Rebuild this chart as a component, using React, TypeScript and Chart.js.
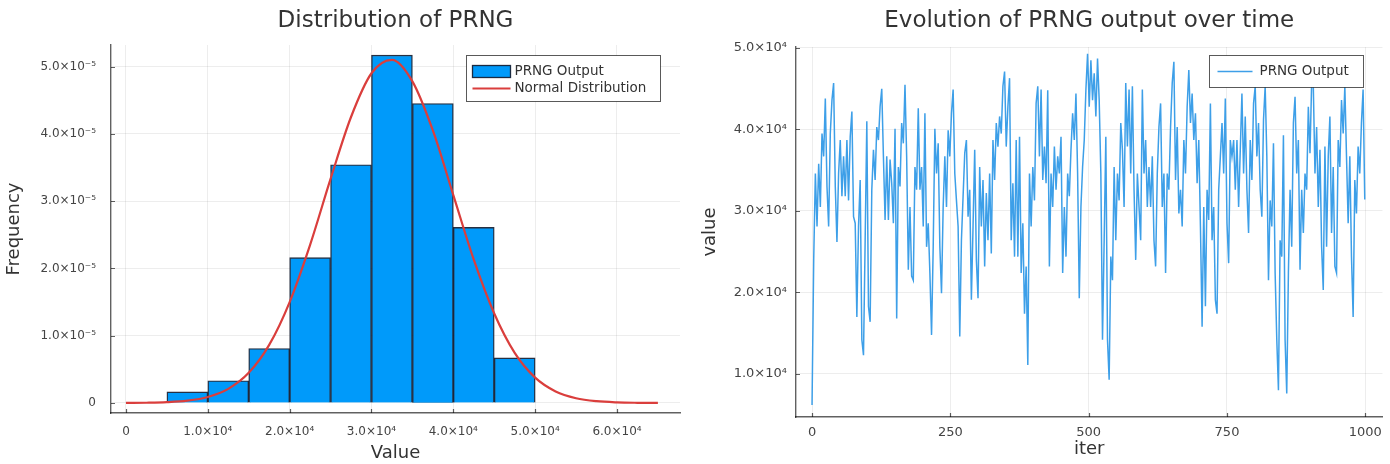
import React, { useEffect, useRef } from "react";
import { Chart, registerables } from "chart.js";

Chart.register(...registerables);

// ---------------- DATA ----------------
// Histogram (left panel)
const BIN_WIDTH = 5000;
const BIN_STARTS = [5000, 10000, 15000, 20000, 25000, 30000, 35000, 40000, 45000];
const BIN_FREQ = [0.165e-5, 0.33e-5, 0.81e-5, 2.16e-5, 3.54e-5, 5.17e-5, 4.45e-5, 2.61e-5, 0.67e-5];

// Normal distribution curve
const NORMAL_X = [
  0, 2500, 5000, 7500, 10000, 12500, 15000, 17500, 20000, 22500, 25000, 27500, 30000, 32500,
  35000, 37500, 40000, 42500, 45000, 47500, 50000, 52500, 55000, 57500, 60000, 62500, 65000,
];
const NORMAL_PDF = [
  1.0e-8, 3.6e-8, 1.17e-7, 3.4e-7, 8.9e-7, 2.1e-6, 4.48e-6, 8.63e-6, 1.5e-5, 2.35e-5, 3.33e-5,
  4.25e-5, 4.9e-5, 5.1e-5, 4.78e-5, 4.05e-5, 3.09e-5, 2.13e-5, 1.33e-5, 7.45e-6, 3.77e-6, 1.72e-6,
  7.1e-7, 2.65e-7, 8.9e-8, 2.7e-8, 7e-9,
];

const FREQ_TICKS = [0, 1e-5, 2e-5, 3e-5, 4e-5, 5e-5];
const FREQ_TICK_LABELS = ["0", "1.0×10⁻⁵", "2.0×10⁻⁵", "3.0×10⁻⁵", "4.0×10⁻⁵", "5.0×10⁻⁵"];
const VALUE_TICKS = [0, 10000, 20000, 30000, 40000, 50000, 60000];
const VALUE_TICK_LABELS = ["0", "1.0×10⁴", "2.0×10⁴", "3.0×10⁴", "4.0×10⁴", "5.0×10⁴", "6.0×10⁴"];

// Time series (right panel): one reading every ITER_STEP iterations
const ITER_STEP = 3;
const PRNG_VALUES = [
  6200, 24000, 34600, 28100, 35800, 30500, 39500, 36700, 43800, 33000,
  28100, 39500, 43600, 45700, 33000, 26200, 34600, 38700, 31800, 36700,
  31800, 38700, 31300, 39100, 42200, 29300, 28500, 17000, 28100, 33800,
  14200, 12300, 26400, 41000,
  18300, 16400, 32600, 37500, 33800, 40300, 38700, 42800, 45000, 36700,
  28900, 36700, 28900, 36300, 33400, 28500, 40100, 16800, 35400, 33000,
  40800, 38300, 45500, 36700, 22800, 30500, 22000, 21500, 35400, 32600,
  42600, 32600, 35400, 28100, 42000, 25600, 28500, 22400, 14800, 25600,
  40100, 34600, 38300, 25600, 19900, 30500, 36700, 30500, 39900, 36700,
  42000, 44900, 34600, 31300, 28100, 14600, 26400, 31800, 37100, 38700,
  29300, 32600, 19100, 28100, 37500, 24000, 19300, 35400, 28100, 33800,
  23200, 32200, 26400, 34600, 24800, 38700, 33800, 40800, 37900, 41600,
  39500, 45300, 47100, 37900, 42800, 46300, 26400, 33400, 24400, 38700,
  24400, 39100, 22400, 28500, 17400, 23200, 11100, 34600, 28100, 35400,
  31300, 43200, 45300, 36700, 44900, 33800, 37900, 33400, 44800, 23200,
  34600, 30500, 37900, 32600, 36700, 34600, 39100, 22400, 30500, 24400,
  34600, 31800, 37500, 42000, 38700, 44400, 34600, 19300, 30500, 35400,
  38700, 44900, 49300, 42800, 48500, 43600, 46900, 41600, 48700, 43600,
  34600, 14200, 26400, 39100, 14200, 9300, 24400, 21500, 35400, 26400,
  34600, 31300, 40800, 37500, 30500, 45700, 37900, 44900, 34600, 45300,
  32600, 24000, 34600, 30500, 26400, 44900, 34600, 38700, 30500, 35400,
  30500, 36700, 26400, 23200, 34600, 40300, 43200, 30500, 34600, 22400,
  34600, 32600, 40300, 45700, 48300, 33800, 40300, 29700, 32600, 28100,
  38700, 34600, 42800, 47300, 40800, 44400, 38700, 42000, 33400, 38700,
  28100, 15800, 30500, 18300, 32600, 28900, 43200, 26400, 30500, 19100,
  17400, 32600, 36700, 40800, 34600, 43800, 28500, 23600, 38700, 36700,
  38700, 32600, 38700, 30500, 37500, 44400, 34600, 41600, 32600, 27300,
  38700, 33800, 43200, 45300, 36700, 40800, 32600, 29300, 41200, 45300,
  36700, 21500, 31300, 28100, 38300, 22400, 14200, 8000, 26400, 24400,
  39300, 14200, 7600, 22400, 32600, 25600, 40800, 44000, 34600, 38700,
  22800, 32600, 27300, 34600, 32600, 42800, 37100, 45700, 45300, 34600,
  40300, 30500, 37500, 25600, 20300, 37900, 25600, 36700, 41600, 27300,
  35400, 23200, 22400, 38700, 35400, 43600, 39500, 45300, 36700, 28500,
  36700, 24400, 17000, 33800, 29700, 37900, 34600, 40800, 44900, 31400,
];

const ITER_TICKS = [0, 250, 500, 750, 1000];
const ITER_TICK_LABELS = ["0", "250", "500", "750", "1000"];
const SERIES_TICKS = [10000, 20000, 30000, 40000, 50000];
const SERIES_TICK_LABELS = ["1.0×10⁴", "2.0×10⁴", "3.0×10⁴", "4.0×10⁴", "5.0×10⁴"];

// ---------------- STYLE ----------------
const FONT = "'DejaVu Sans', 'Liberation Sans', sans-serif";
const TEXT = "#333333";
const TICK_TEXT = "#444444";
const AXIS = "rgba(0,0,0,0.62)";
const GRID = "rgba(0,0,0,0.07)";
const BAR_BLUE = "#009AFA";
const BAR_EDGE = "rgba(15,25,45,0.9)";
const RED = "rgb(218,62,60)";
const LINE_BLUE = "#3d9fe8";

type LegendItem = { kind: "box" | "line"; label: string; color: string; y: number };
type DecorCfg = {
  title: string;
  titleY: number;
  legend: {
    right: number;
    top: number;
    width: number;
    height: number;
    swatchX0: number;
    swatchX1: number;
    textX: number;
    items: LegendItem[];
  };
};

function makeDecor(cfg: DecorCfg) {
  return {
    id: "decor",
    afterDraw(chart: any) {
      const { ctx, chartArea: a } = chart;
      ctx.save();
      // inward tick marks
      ctx.strokeStyle = AXIS;
      ctx.lineWidth = 1.2;
      const xs = chart.scales.x;
      const ys = chart.scales.y;
      ctx.beginPath();
      xs.ticks.forEach((t: any) => {
        const px = Math.round(xs.getPixelForValue(t.value)) + 0.5;
        ctx.moveTo(px, a.bottom);
        ctx.lineTo(px, a.bottom - 4);
      });
      ys.ticks.forEach((t: any) => {
        const py = Math.round(ys.getPixelForValue(t.value)) + 0.5;
        ctx.moveTo(a.left, py);
        ctx.lineTo(a.left + 4, py);
      });
      ctx.stroke();

      // title centered on plot area
      ctx.fillStyle = TEXT;
      ctx.font = `23px ${FONT}`;
      ctx.textAlign = "center";
      ctx.textBaseline = "middle";
      ctx.fillText(cfg.title, (a.left + a.right) / 2, cfg.titleY);

      // legend box inside plot area (top-right)
      const L = cfg.legend;
      const bx = Math.round(a.right - L.right - L.width) + 0.5;
      const by = Math.round(a.top + L.top) + 0.5;
      ctx.fillStyle = "#ffffff";
      ctx.fillRect(bx, by, L.width, L.height);
      ctx.strokeStyle = "rgba(0,0,0,0.65)";
      ctx.lineWidth = 1;
      ctx.strokeRect(bx, by, L.width, L.height);
      ctx.font = `13.5px ${FONT}`;
      ctx.textAlign = "left";
      ctx.textBaseline = "middle";
      L.items.forEach((it) => {
        const cy = by + it.y;
        if (it.kind === "box") {
          ctx.fillStyle = it.color;
          ctx.fillRect(bx + L.swatchX0, cy - 6, L.swatchX1 - L.swatchX0, 12);
          ctx.strokeStyle = BAR_EDGE;
          ctx.lineWidth = 1.3;
          ctx.strokeRect(bx + L.swatchX0, cy - 6, L.swatchX1 - L.swatchX0, 12);
        } else {
          ctx.strokeStyle = it.color;
          ctx.lineWidth = it.color === RED ? 2.2 : 1.6;
          ctx.beginPath();
          ctx.moveTo(bx + L.swatchX0, cy);
          ctx.lineTo(bx + L.swatchX1, cy);
          ctx.stroke();
        }
        ctx.fillStyle = TEXT;
        ctx.fillText(it.label, bx + L.textX, cy);
      });
      ctx.restore();
    },
  };
}

function axisCommon(ticksArr: number[], labels: string[], pad: number, size: number) {
  return {
    type: "linear" as const,
    offset: false,
    afterBuildTicks: (s: any) => {
      s.ticks = ticksArr.map((value) => ({ value }));
    },
    grid: { color: GRID, lineWidth: 1, drawTicks: false, offset: false },
    border: { display: true, color: AXIS, width: 1.4 },
    ticks: {
      padding: pad,
      color: TICK_TEXT,
      font: { family: FONT, size },
      maxRotation: 0,
      autoSkip: false,
      includeBounds: false,
      callback: (_v: any, i: number) => labels[i],
    },
  };
}

export default function App() {
  const leftRef = useRef<HTMLCanvasElement>(null);
  const rightRef = useRef<HTMLCanvasElement>(null);

  useEffect(() => {
    document.body.style.margin = "0";

    const histData = BIN_STARTS.map((s, i) => ({ x: s + BIN_WIDTH / 2, y: BIN_FREQ[i] }));
    const normData = NORMAL_X.map((x, i) => ({ x, y: NORMAL_PDF[i] }));

    const left = new Chart(leftRef.current as HTMLCanvasElement, {
      type: "bar",
      data: {
        datasets: [
          {
            type: "line",
            label: "Normal Distribution",
            data: normData,
            borderColor: RED,
            borderWidth: 2.2,
            pointRadius: 0,
            cubicInterpolationMode: "monotone",
            fill: false,
            order: 0,
          } as any,
          {
            type: "bar",
            label: "PRNG Output",
            data: histData,
            backgroundColor: BAR_BLUE,
            borderColor: BAR_EDGE,
            borderWidth: 1.4,
            barPercentage: 1,
            categoryPercentage: 1,
            order: 1,
          } as any,
        ],
      },
      options: {
        animation: false,
        responsive: false,
        events: [],
        layout: { padding: { top: 45, right: 10, left: 0, bottom: 0 } },
        plugins: { legend: { display: false }, tooltip: { enabled: false } },
        scales: {
          x: {
            ...axisCommon(VALUE_TICKS, VALUE_TICK_LABELS, 12, 12),
            min: -1830,
            max: 67700,
            afterFit: (s: any) => {
              s.height = 51;
            },
            title: {
              display: true,
              text: "Value",
              color: TEXT,
              font: { family: FONT, size: 18 },
              padding: { top: 0, bottom: 0 },
            },
          },
          y: {
            ...axisCommon(FREQ_TICKS, FREQ_TICK_LABELS, 15, 12),
            min: -0.149e-5,
            max: 5.32e-5,
            beginAtZero: false,
            afterFit: (s: any) => {
              s.width = 111;
            },
            title: {
              display: true,
              text: "Frequency",
              color: TEXT,
              font: { family: FONT, size: 18 },
              padding: { top: 4, bottom: 0 },
            },
          },
        } as any,
      },
      plugins: [
        makeDecor({
          title: "Distribution of PRNG",
          titleY: 21,
          legend: {
            right: 20,
            top: 10,
            width: 194,
            height: 46,
            swatchX0: 6,
            swatchX1: 44,
            textX: 48,
            items: [
              { kind: "box", label: "PRNG Output", color: BAR_BLUE, y: 16 },
              { kind: "line", label: "Normal Distribution", color: RED, y: 33 },
            ],
          },
        }) as any,
      ],
    });

    const seriesData = PRNG_VALUES.map((v, i) => ({ x: i * ITER_STEP, y: v }));

    const right = new Chart(rightRef.current as HTMLCanvasElement, {
      type: "line",
      data: {
        datasets: [
          {
            label: "PRNG Output",
            data: seriesData,
            borderColor: LINE_BLUE,
            borderWidth: 1.5,
            pointRadius: 0,
            tension: 0,
            fill: false,
          },
        ],
      },
      options: {
        animation: false,
        responsive: false,
        events: [],
        layout: { padding: { top: 47, right: 5, left: 0, bottom: 0 } },
        plugins: { legend: { display: false }, tooltip: { enabled: false } },
        scales: {
          x: {
            ...axisCommon(ITER_TICKS, ITER_TICK_LABELS, 8, 13),
            min: -29,
            max: 1031,
            afterFit: (s: any) => {
              s.height = 47;
            },
            title: {
              display: true,
              text: "iter",
              color: TEXT,
              font: { family: FONT, size: 18 },
              padding: { top: 0, bottom: 4 },
            },
          },
          y: {
            ...axisCommon(SERIES_TICKS, SERIES_TICK_LABELS, 9, 13),
            min: 4724,
            max: 50120,
            afterFit: (s: any) => {
              s.width = 106;
            },
            title: {
              display: true,
              text: "value",
              color: TEXT,
              font: { family: FONT, size: 18 },
              padding: { top: 10, bottom: 0 },
            },
          },
        } as any,
      },
      plugins: [
        makeDecor({
          title: "Evolution of PRNG output over time",
          titleY: 21,
          legend: {
            right: 19,
            top: 8,
            width: 154,
            height: 32,
            swatchX0: 8,
            swatchX1: 43,
            textX: 50,
            items: [{ kind: "line", label: "PRNG Output", color: LINE_BLUE, y: 16 }],
          },
        }) as any,
      ],
    });

    return () => {
      left.destroy();
      right.destroy();
    };
  }, []);

  return (
    <div style={{ position: "relative", width: 1390, height: 464, background: "#ffffff" }}>
      <canvas
        ref={leftRef}
        width={690}
        height={464}
        style={{ position: "absolute", left: 0, top: 0, width: 690, height: 464 }}
      />
      <canvas
        ref={rightRef}
        width={700}
        height={464}
        style={{ position: "absolute", left: 690, top: 0, width: 700, height: 464 }}
      />
    </div>
  );
}
